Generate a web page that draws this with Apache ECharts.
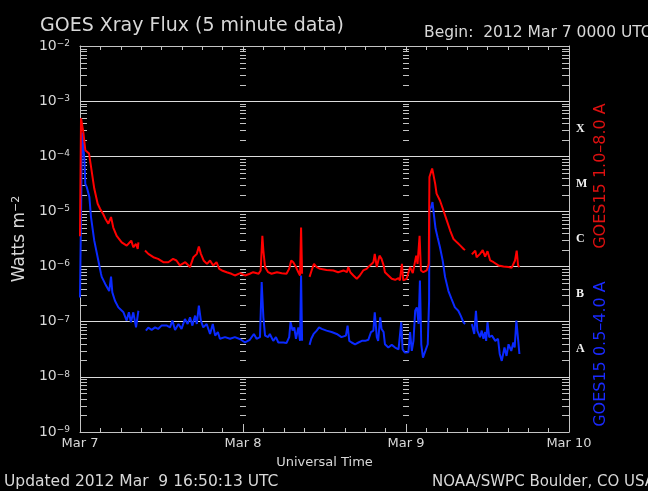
<!DOCTYPE html>
<html><head><meta charset="utf-8">
<script src="https://cdn.jsdelivr.net/npm/echarts@6/dist/echarts.min.js"></script>
<style>html,body{margin:0;padding:0;background:#000}#c{width:648px;height:491px}</style>
</head><body><div id="c"></div>
<script>
// hours since 2012 Mar 7 00:00 UTC, flux in W m^-2 (null = data gap)
const longChannel = [
[0,3.55e-6],[0.15,4.9e-4],[0.4,4.9e-4],[0.49,2.75e-4],[0.78,1.29e-4],[1.03,1.29e-4],[1.33,1.12e-4],[1.62,6.5e-5],[2.1,2.6e-5],[2.6,1.38e-5],
[2.95,1.12e-5],[3.43,8.9e-6],[3.73,7.4e-6],[4.17,6.0e-6],[4.57,7.9e-6],[4.9,5.1e-6],[5.4,3.6e-6],[6.14,2.75e-6],[6.88,2.4e-6],[7.55,2.95e-6],
[7.85,2.24e-6],[8.25,2.57e-6],[8.5,2.1e-6],[8.6,2.75e-6],[9.0,null],[9.57,1.95e-6],[10.06,1.7e-6],[10.8,1.48e-6],[11.5,1.38e-6],[12.27,1.2e-6],
[13.0,1.2e-6],[13.7,1.38e-6],[14.2,1.29e-6],[14.7,1.05e-6],[15.5,1.2e-6],[16.2,9.8e-7],[16.7,1.48e-6],[17.2,1.7e-6],[17.5,2.3e-6],[17.8,1.7e-6],
[18.2,1.29e-6],[18.7,1.12e-6],[19.15,1.29e-6],[19.6,1.05e-6],[20.1,1.2e-6],[20.5,9.1e-7],[20.9,8.5e-7],[21.6,7.9e-7],[22.3,7.4e-7],[22.8,6.9e-7],
[23.6,7.6e-7],[24.3,6.9e-7],[25.0,7.4e-7],[25.5,7.9e-7],[26.3,7.4e-7],[26.6,8.5e-7],[26.85,3.6e-6],[27.0,1.95e-6],[27.25,9.8e-7],[27.7,7.9e-7],
[28.2,7.4e-7],[29.0,7.9e-7],[29.7,7.6e-7],[30.4,7.4e-7],[30.8,9.1e-7],[31.1,1.29e-6],[31.4,1.2e-6],[31.8,9.8e-7],[32.15,7.9e-7],[32.4,6.9e-7],
[32.55,5.1e-6],[32.7,7.4e-7],[33.2,null],[33.8,6.5e-7],[34.1,8.5e-7],[34.45,1.12e-6],[34.85,9.8e-7],[35.35,9.1e-7],[36.3,8.7e-7],[37.3,8.5e-7],
[38.0,7.9e-7],[38.8,8.5e-7],[39.3,7.9e-7],[39.5,9.8e-7],[39.8,7.9e-7],[40.25,6.9e-7],[40.75,6.0e-7],[41.2,6.9e-7],[41.7,8.5e-7],[42.2,9.1e-7],
[42.7,1.05e-6],[43.2,1.2e-6],[43.4,1.7e-6],[43.7,9.8e-7],[44.1,1.58e-6],[44.4,1.38e-6],[44.7,1.05e-6],[44.9,7.9e-7],[45.4,6.9e-7],[45.9,6.0e-7],
[46.4,5.75e-7],[46.9,6.2e-7],[47.1,5.6e-7],[47.4,1.12e-6],[47.6,5.6e-7],[48.1,6.0e-7],[48.6,9.8e-7],[49.0,7.6e-7],[49.5,1.58e-6],[49.7,1.12e-6],
[50.0,3.6e-6],[50.2,8.5e-7],[50.55,7.9e-7],[51.05,8.5e-7],[51.35,1.12e-6],[51.45,4.2e-5],[51.7,4.5e-5],[51.85,6.0e-5],[52.0,4.9e-5],[52.3,3.16e-5],
[52.5,2.1e-5],[53.0,1.58e-5],[53.5,1.05e-5],[54.0,6.9e-6],[54.5,4.5e-6],[55.0,3.16e-6],[55.5,2.75e-6],[56.0,2.4e-6],[56.45,2.1e-6],[56.7,2.0e-6],
[57.2,null],[57.7,1.66e-6],[58.2,1.95e-6],[58.4,1.48e-6],[58.9,1.7e-6],[59.3,2.0e-6],[59.65,1.51e-6],[60.0,1.9e-6],[60.4,1.29e-6],[60.9,1.2e-6],
[61.6,1.05e-6],[62.35,1.0e-6],[63.1,9.8e-7],[63.55,9.5e-7],[64.05,1.29e-6],[64.3,1.95e-6],[64.5,1.05e-6],[64.7,9.8e-7]
];
const shortChannel = [
[0,2.75e-7],[0.3,2.7e-4],[0.5,2.6e-4],[0.65,8.5e-5],[0.78,3.16e-5],[1.0,2.75e-5],[1.13,2.95e-5],[1.38,1.82e-5],[1.62,7.9e-6],[2.1,2.95e-6],
[2.6,1.48e-6],[3.09,7.4e-7],[3.2,6.5e-7],[3.73,4.8e-7],[4.3,3.6e-7],[4.57,6.6e-7],[4.76,3.4e-7],[5.15,2.4e-7],[5.65,1.82e-7],[6.4,1.48e-7],
[6.87,1.05e-7],[7.2,1.48e-7],[7.5,9.8e-8],[7.85,1.48e-7],[8.25,7.9e-8],[8.6,1.58e-7],[9.0,null],[9.7,6.9e-8],[10.06,7.8e-8],[10.55,7.1e-8],
[11.05,7.9e-8],[11.5,7.4e-8],[12.0,8.5e-8],[12.8,8.5e-8],[13.25,7.9e-8],[13.6,1.05e-7],[14.0,7.1e-8],[14.5,9.1e-8],[14.95,7.4e-8],[15.45,1.12e-7],
[15.85,9.1e-8],[16.2,1.2e-7],[16.55,8.5e-8],[16.95,1.29e-7],[17.2,9.1e-8],[17.5,1.95e-7],[17.8,1.05e-7],[18.15,7.9e-8],[18.65,9.1e-8],[19.15,6.0e-8],
[19.55,9.1e-8],[19.9,5.6e-8],[20.3,6.5e-8],[20.6,4.9e-8],[21.35,5.25e-8],[22.1,4.9e-8],[22.8,5.25e-8],[23.6,4.8e-8],[24.3,4.2e-8],[25.0,4.7e-8],
[25.6,6.0e-8],[26.0,4.9e-8],[26.5,5.25e-8],[26.75,5.25e-7],[27.0,1.2e-7],[27.25,5.6e-8],[27.7,5.25e-8],[27.95,6.0e-8],[28.45,4.5e-8],[28.85,5.25e-8],
[29.2,4.2e-8],[29.95,4.2e-8],[30.4,4.1e-8],[30.8,5.25e-8],[31.0,9.8e-8],[31.3,6.9e-8],[31.55,7.9e-8],[31.8,4.9e-8],[32.15,7.9e-8],[32.4,4.5e-8],
[32.55,6.9e-7],[32.7,4.5e-8],[33.2,null],[33.8,3.8e-8],[34.05,4.9e-8],[34.4,6.0e-8],[34.85,6.9e-8],[35.2,7.9e-8],[35.6,7.4e-8],[36.3,6.9e-8],
[37.05,6.5e-8],[37.8,6.0e-8],[38.5,5.25e-8],[39.15,5.6e-8],[39.4,8.5e-8],[39.65,4.5e-8],[40.0,4.2e-8],[40.5,3.9e-8],[41.0,4.2e-8],[41.5,4.5e-8],
[42.0,4.5e-8],[42.45,4.7e-8],[42.85,6.5e-8],[43.2,6.9e-8],[43.4,1.48e-7],[43.7,5.25e-8],[43.9,4.5e-8],[44.2,1.2e-7],[44.4,7.4e-8],[44.7,6.5e-8],
[44.9,3.9e-8],[45.4,3.4e-8],[45.9,3.8e-8],[46.4,3.4e-8],[46.9,3.16e-8],[47.3,9.8e-8],[47.5,3.16e-8],[47.85,2.75e-8],[48.35,2.8e-8],[48.6,6.5e-8],
[48.85,2.95e-8],[49.1,4.5e-8],[49.35,1.58e-7],[49.6,1.82e-7],[49.85,9.1e-8],[50.05,5.6e-7],[50.25,3.9e-8],[50.5,2.24e-8],[50.85,2.95e-8],[51.2,3.9e-8],
[51.4,2.4e-7],[51.45,1.05e-5],[51.7,1.2e-5],[51.9,1.48e-5],[52.15,7.9e-6],[52.35,4.9e-6],[52.65,3.4e-6],[53.0,2.24e-6],[53.4,1.29e-6],[53.75,6.5e-7],
[54.25,3.6e-7],[54.7,2.6e-7],[55.2,1.82e-7],[55.7,1.58e-7],[56.05,1.29e-7],[56.45,9.8e-8],[56.7,9.1e-8],[57.2,null],[57.7,9.1e-8],[58.05,6.0e-8],
[58.3,1.58e-7],[58.5,6.9e-8],[58.9,5.25e-8],[59.15,6.9e-8],[59.4,4.9e-8],[59.65,6.5e-8],[59.8,4.5e-8],[60.0,9.8e-8],[60.25,5.25e-8],[60.65,5.6e-8],
[61.15,4.5e-8],[61.55,4.9e-8],[61.8,2.6e-8],[62.1,1.95e-8],[62.5,3.4e-8],[62.8,2.4e-8],[63.1,3.9e-8],[63.5,2.95e-8],[63.8,4.2e-8],[64.0,3.4e-8],
[64.25,1.05e-7],[64.5,4.9e-8],[64.7,2.6e-8]
];
const dayLabels = ['Mar 7', 'Mar 8', 'Mar 9', 'Mar 10'];
const flareClasses = ['X', 'M', 'C', 'B', 'A'];
const flareClassCenters = [-3.5, -4.5, -5.5, -6.5, -7.5];
const longLabel = 'GOES15 1.0\u20138.0 A';
const shortLabel = 'GOES15 0.5\u20134.0 A';

const axisCol = '#c4c4c4';
const textCol = '#d8d8d8';
const FONT = 'DejaVu Sans';

function toSeries(arr) { return arr.map(p => [p[0], p[1] === null ? '-' : p[1]]); }

// log minor tick marks (2..9 x 10^n) along frame edges and day boundaries
const minorTickData = [];
for (let e = -9; e <= -3; e++) {
  for (let k = 2; k <= 9; k++) {
    const v = k * Math.pow(10, e);
    minorTickData.push([0, v, 1], [72, v, -1], [24, v, 0], [48, v, 0]);
  }
}

const chart = echarts.init(document.getElementById('c'), null, {renderer: 'canvas'});
chart.setOption({
  backgroundColor: '#000',
  animation: false,
  grid: {left: 80, right: 79, top: 46, bottom: 59, containLabel: false},
  xAxis: [{
    type: 'value', min: 0, max: 72, interval: 24, position: 'bottom',
    axisLine: {show: true, onZero: false, lineStyle: {color: axisCol, width: 1}},
    axisTick: {show: true, inside: true, length: 8, lineStyle: {color: axisCol}},
    minorTick: {show: true, splitNumber: 8, length: 4, lineStyle: {color: axisCol}},
    splitLine: {show: false}, minorSplitLine: {show: false},
    axisLabel: {color: textCol, fontFamily: FONT, fontSize: 13, margin: 5,
      formatter: v => dayLabels[Math.round(v / 24)]},
    name: 'Universal Time', nameLocation: 'middle', nameGap: 24,
    nameTextStyle: {color: textCol, fontFamily: FONT, fontSize: 13}
  }, {
    type: 'value', min: 0, max: 72, interval: 24, position: 'top',
    axisLine: {show: true, onZero: false, lineStyle: {color: axisCol, width: 1}},
    axisTick: {show: true, inside: true, length: 6, lineStyle: {color: axisCol}},
    minorTick: {show: true, splitNumber: 8, length: 4, lineStyle: {color: axisCol}},
    splitLine: {show: false}, axisLabel: {show: false}
  }],
  yAxis: [{
    type: 'log', logBase: 10, min: 1e-9, max: 1e-2, interval: 1, position: 'left',
    axisLine: {show: true, onZero: false, lineStyle: {color: axisCol, width: 1}},
    axisTick: {show: false},
    splitLine: {show: true, lineStyle: {color: '#dcdcdc', width: 1}},
    axisLabel: {margin: 10, color: textCol,
      formatter: v => '{b|10}{s|\u2212' + Math.abs(Math.round(Math.log10(v))) + '}',
      rich: {
        b: {fontFamily: FONT, fontSize: 14, color: textCol, verticalAlign: 'bottom'},
        s: {fontFamily: FONT, fontSize: 9, color: textCol, verticalAlign: 'top'}
      }},
    name: '{a|Watts m}{s|\u22122}', nameLocation: 'middle', nameRotate: 90, nameGap: 40,
    nameTextStyle: {rich: {
      a: {fontFamily: FONT, fontSize: 17, color: textCol, verticalAlign: 'bottom'},
      s: {fontFamily: FONT, fontSize: 11, color: textCol, verticalAlign: 'top'}
    }}
  }, {
    type: 'value', min: -9, max: -2, interval: 0.5, position: 'right',
    axisLine: {show: true, onZero: false, lineStyle: {color: axisCol, width: 1}},
    axisTick: {show: false}, splitLine: {show: false},
    axisLabel: {margin: 7, color: '#f0f0f0', fontFamily: 'Liberation Serif', fontWeight: 'bold', fontSize: 12,
      formatter: v => { const i = flareClassCenters.indexOf(v); return i >= 0 ? flareClasses[i] : ''; }}
  }],
  series: [{
    type: 'custom', xAxisIndex: 0, yAxisIndex: 0, silent: true, z: 1,
    data: minorTickData,
    renderItem: function (params, api) {
      const p = api.coord([api.value(0), api.value(1)]);
      const d = api.value(2);
      const y = Math.round(p[1]) + 0.5;
      let x1, x2;
      if (d === 1) { x1 = p[0]; x2 = p[0] + 7; }
      else if (d === -1) { x1 = p[0] - 7; x2 = p[0]; }
      else { x1 = p[0] - 3; x2 = p[0] + 3; }
      return {type: 'line', shape: {x1: x1, y1: y, x2: x2, y2: y}, style: {stroke: axisCol, lineWidth: 1}};
    }
  }, {
    name: shortLabel, type: 'line', xAxisIndex: 0, yAxisIndex: 0, data: toSeries(shortChannel),
    showSymbol: false, connectNulls: false, z: 3,
    lineStyle: {color: '#0a2aff', width: 2}
  }, {
    name: longLabel, type: 'line', xAxisIndex: 0, yAxisIndex: 0, data: toSeries(longChannel),
    showSymbol: false, connectNulls: false, z: 4,
    lineStyle: {color: '#ff0000', width: 2}
  }],
  graphic: [
    {type: 'text', x: 40, y: 26, style: {text: 'GOES Xray Flux (5 minute data)', fill: textCol, font: '19px "DejaVu Sans"', align: 'left', textAlign: 'left', verticalAlign: 'middle', textVerticalAlign: 'middle'}},
    {type: 'text', x: 424, y: 33, style: {text: 'Begin:  2012 Mar 7 0000 UTC', fill: textCol, font: '15.5px "DejaVu Sans"', align: 'left', textAlign: 'left', verticalAlign: 'middle', textVerticalAlign: 'middle'}},
    {type: 'text', x: 4, y: 482, style: {text: 'Updated 2012 Mar  9 16:50:13 UTC', fill: textCol, font: '15.5px "DejaVu Sans"', align: 'left', textAlign: 'left', verticalAlign: 'middle', textVerticalAlign: 'middle'}},
    {type: 'text', x: 432, y: 482, style: {text: 'NOAA/SWPC Boulder, CO USA', fill: textCol, font: '15px "DejaVu Sans"', align: 'left', textAlign: 'left', verticalAlign: 'middle', textVerticalAlign: 'middle'}},
    {type: 'text', x: 601, y: 176, rotation: Math.PI / 2, style: {text: longLabel, fill: '#dd1010', font: '16px "DejaVu Sans"', align: 'center', textAlign: 'center', verticalAlign: 'middle', textVerticalAlign: 'middle'}},
    {type: 'text', x: 601, y: 354, rotation: Math.PI / 2, style: {text: shortLabel, fill: '#1a2aff', font: '16px "DejaVu Sans"', align: 'center', textAlign: 'center', verticalAlign: 'middle', textVerticalAlign: 'middle'}}
  ]
});
</script>
</body></html>
